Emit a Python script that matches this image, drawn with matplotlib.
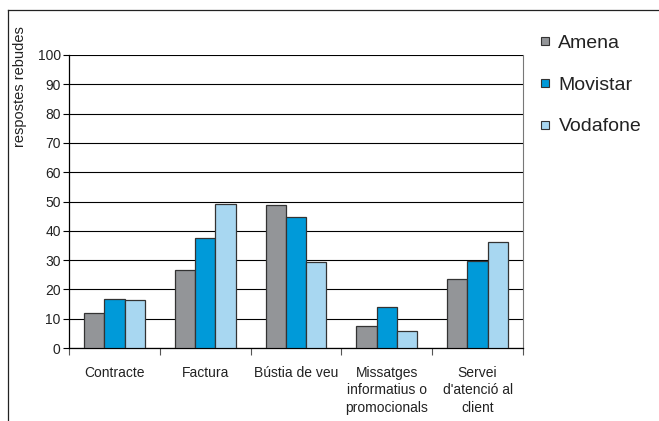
import matplotlib.pyplot as plt
import numpy as np
from matplotlib.lines import Line2D

plt.rcParams['font.family'] = ['Liberation Sans', 'DejaVu Sans']

categories = ['Contracte', 'Factura', 'Bústia de veu',
              'Missatges\ninformatius o\npromocionals',
              "Servei\nd'atenció al\nclient"]
series_names = ['Amena', 'Movistar', 'Vodafone']
amena = [12.0, 26.6, 48.7, 7.5, 23.7]
movistar = [16.8, 37.6, 44.8, 14.0, 29.7]
vodafone = [16.5, 49.0, 29.2, 5.9, 36.3]
colors = ['#939598', '#009ad9', '#a8d7f1']

fig = plt.figure(figsize=(6.59, 4.21), dpi=100)
ax = fig.add_axes([69 / 659, 1 - 348 / 421, 454 / 659, 293 / 421])

x = np.arange(len(categories))
w = 0.223
for i, (vals, c) in enumerate(zip([amena, movistar, vodafone], colors)):
    ax.bar(x + (i - 1) * w, vals, w, color=c, edgecolor='#333333',
           linewidth=0.9, zorder=3)

ax.set_xlim(-0.5, len(categories) - 0.5)
ax.set_ylim(0, 100)
ax.set_yticks(range(0, 101, 10))
ax.yaxis.grid(True, color='black', linewidth=0.8, zorder=0)
ax.tick_params(axis='y', labelsize=10, length=4, width=0.8, pad=2,
               labelcolor='#222222')

# boundary ticks without labels, labels centred on the groups
ax.set_xticks(np.arange(-0.5, len(categories)), labels=[''] * 6)
ax.set_xticks(x, labels=categories, minor=True)
ax.tick_params(axis='x', which='major', length=5, width=0.8, color='#555555')
ax.tick_params(axis='x', which='minor', length=0, labelsize=10, pad=13,
               labelcolor='#222222')
for lbl in ax.get_xticklabels(minor=True):
    lbl.set_linespacing(1.3)
    lbl.set_verticalalignment('top')

for s in ['left', 'bottom']:
    ax.spines[s].set_color('black')
    ax.spines[s].set_linewidth(0.9)
ax.spines['right'].set_color('#777777')
ax.spines['top'].set_visible(False)

fig.text(20 / 659, 1 - 87 / 421, 'respostes rebudes', rotation=90,
         fontsize=10.5, ha='center', va='center', color='#222222')

handles = [Line2D([], [], marker='s', linestyle='none', markersize=5.5,
                  markerfacecolor=c, markeredgecolor='#333333',
                  markeredgewidth=0.8) for c in colors]
fig.legend(handles, series_names, loc='upper left',
           bbox_to_anchor=(539 / 659, 1 - 34 / 421), frameon=False,
           fontsize=14, handlelength=0.6, handletextpad=0.4,
           labelspacing=1.25, borderpad=0, borderaxespad=0,
           labelcolor='#222222')

# outer frame: top and left edges only
fig.add_artist(Line2D([8 / 659, 1], [1 - 10 / 421, 1 - 10 / 421],
                      color='#222222', linewidth=0.9))
fig.add_artist(Line2D([8 / 659, 8 / 659], [0, 1 - 10 / 421],
                      color='#222222', linewidth=0.9))

fig.savefig('out.png', dpi=100)
